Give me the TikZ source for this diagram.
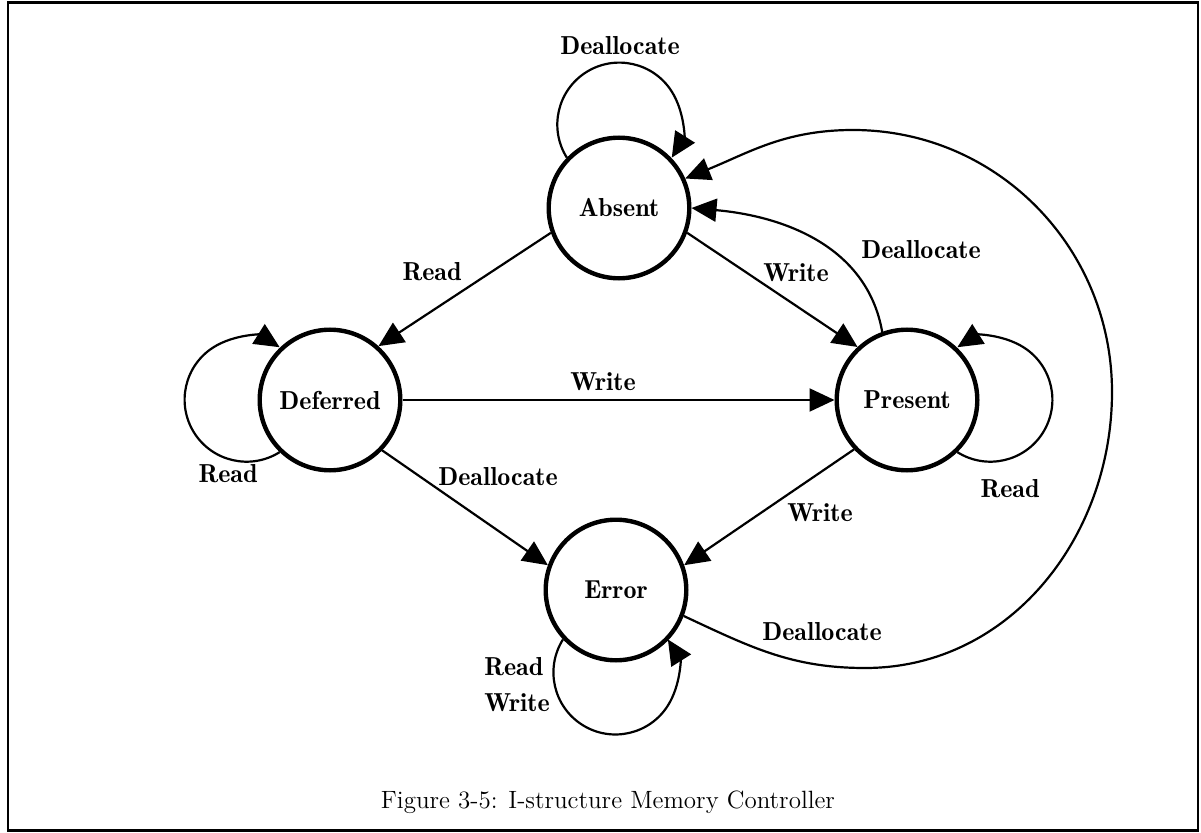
\documentclass[tikz,border=0pt]{standalone}
\usepackage{fontspec}
\newfontfamily\demifont{lmromandemi10-regular.otf}
\usetikzlibrary{arrows.meta}
\begin{document}
\begin{tikzpicture}[x=0.5pt,y=0.5pt,
  state/.style={circle, draw, line width=2.2pt, minimum size=70.3pt, inner sep=0pt,
    font=\demifont\fontsize{13}{15}\selectfont},
  edge/.style={line width=1.1pt, -{Triangle[length=12.5pt,width=11.5pt]}},
  lbl/.style={font=\demifont\fontsize{13}{18}\selectfont, inner sep=0pt}]
\useasboundingbox (0,0) rectangle (1201,832);
% frame
\draw[line width=1.3pt] (8,1.5) rectangle (1198,829.5);

% states
\node[state] (A) at (619,624) {Absent};
\node[state] (D) at (330,432) {Deferred};
\node[state] (P) at (907,432) {Present};
\node[state] (E) at (616,242) {Error};

% straight transitions
\draw[edge] (A.200) -- (D.48);
\draw[edge] (A.-20) -- (P.133);
\draw[edge] (D.0) -- (P.180);
\draw[edge] (D.-44) -- (E.160);
\draw[edge] (P.223) -- (E.20);

% Present -> Absent
\draw[edge] (P.110) to[out=100, in=-5] (A.0);

% Error -> Absent, around the right side
\coordinate (b) at (865,164);
\coordinate (r) at (1112,440);
\coordinate (t) at (853,702);
\draw[edge] (E.-21) to[out=-25,in=180] (b) to[out=0,in=-90] (r)
  to[out=90,in=0] (t) to[out=180,in=22] (A.24);

% self loops
\draw[edge] (A.136.4) arc[start angle=212.2, end angle=-32.2, radius=62];
\draw[edge] (P.-46.4) arc[start angle=-122.2, end angle=122.2, radius=62];
\draw[edge] (D.226.4) arc[start angle=302.2, end angle=57.8, radius=62];
\draw[edge] (E.223.6) arc[start angle=147.8, end angle=392.2, radius=62];

% labels
\node[lbl] (lAA) at (620,786) {Deallocate};
\node[lbl] (lAD) at (432,560) {Read};
\node[lbl] (lAP) at (796,559) {Write};
\node[lbl] (lDP) at (603,450) {Write};
\node[lbl] (lPA) at (921,582) {Deallocate};
\node[lbl] (lDE) at (498,355) {Deallocate};
\node[lbl] (lPE) at (820,319) {Write};
\node[lbl] (lPP) at (1010,343) {Read};
\node[lbl] (lEA) at (822,200) {Deallocate};
\node[lbl] (lDD) at (228,358) {Read};
\node[lbl, align=left] (lEE) at (517,147) {Read\\Write};

% caption
\node[font=\fontsize{12.5}{15}\selectfont, inner sep=0pt] (cap) at (608,30)
  {Figure 3-5: I-structure Memory Controller};
\end{tikzpicture}
\end{document}
